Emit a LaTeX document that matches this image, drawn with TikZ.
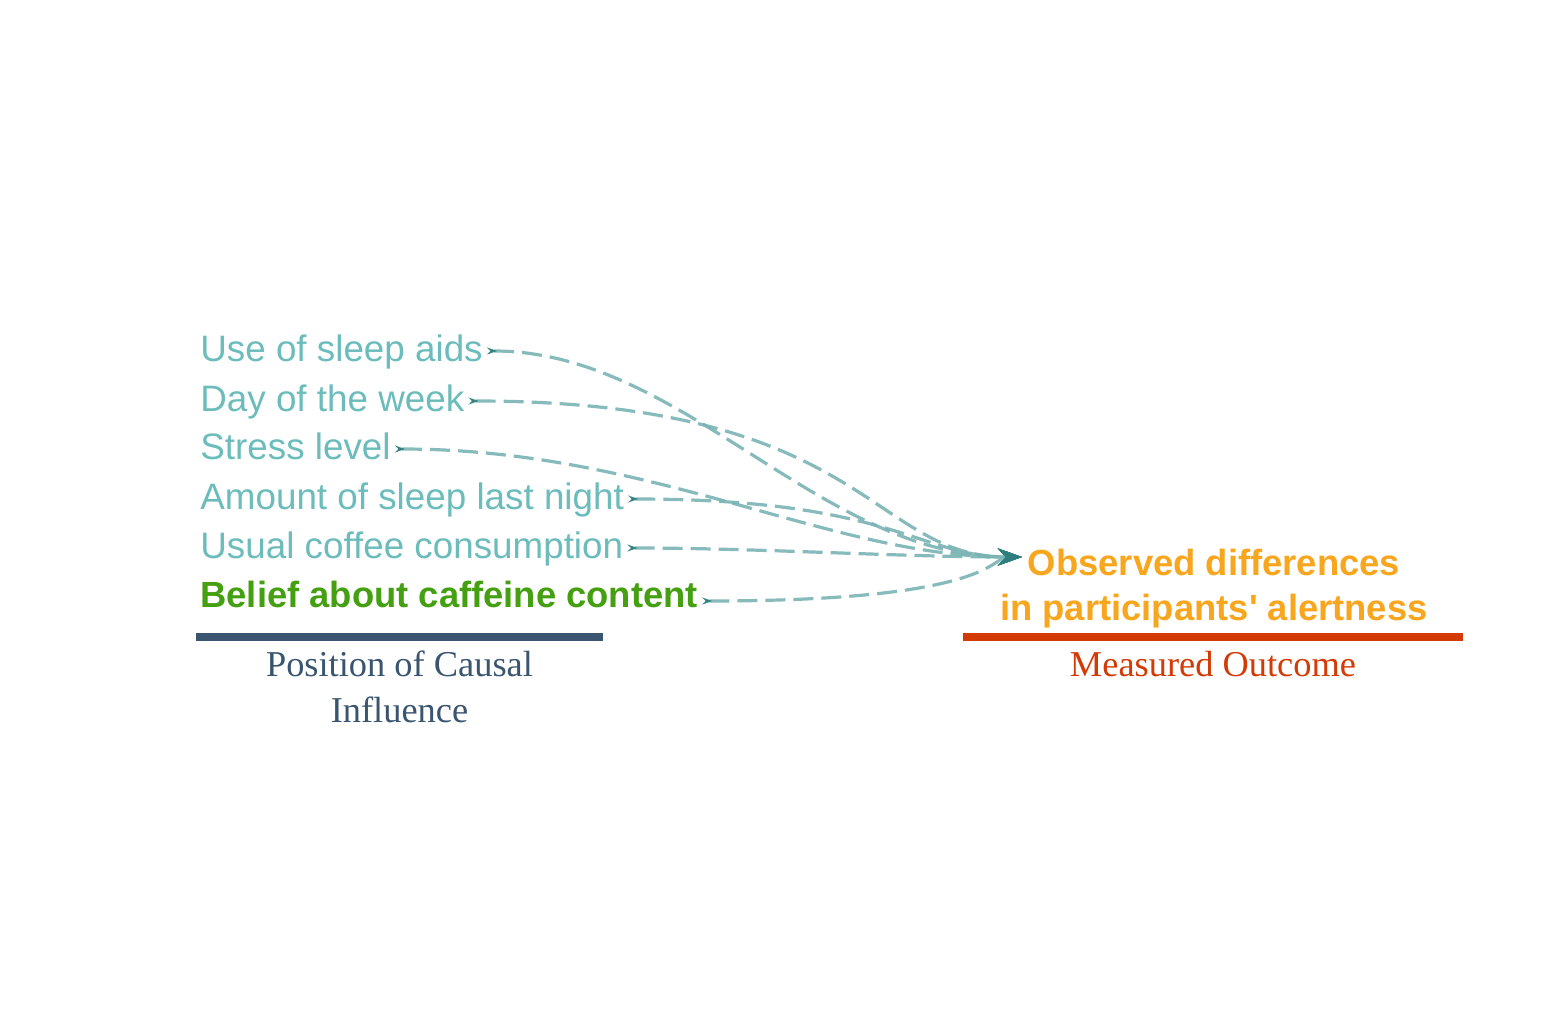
\documentclass[tikz,border=0pt]{standalone}
\usepackage{fontspec}
\setmainfont{Liberation Serif}
\setsansfont{Liberation Sans}
\usetikzlibrary{arrows.meta}

\definecolor{factorteal}{HTML}{6CBCBC}
\definecolor{beliefgreen}{HTML}{44A010}
\definecolor{outcomeorange}{HTML}{F8A61E}
\definecolor{causeblue}{HTML}{3A5570}
\definecolor{measurered}{HTML}{D33A06}
\definecolor{linkteal}{HTML}{7AB3B3}
\definecolor{tipteal}{HTML}{2E7E7E}

\begin{document}
\begin{tikzpicture}
[x=0.5pt,y=-0.5pt,
factor/.style={anchor=west,inner xsep=2pt,inner ysep=0pt,text height=13.5pt,text depth=2.7pt,font=\sffamily\fontsize{18.4}{21}\selectfont,text=factorteal},
beliefnode/.style={factor,text depth=7.5pt,text=beliefgreen,font=\sffamily\bfseries\fontsize{18.2}{21}\selectfont},
outcomenode/.style={anchor=base,align=center,font=\sffamily\bfseries\fontsize{18.2}{22.5}\selectfont,text=outcomeorange},
caption/.style={anchor=base,align=center,font=\fontsize{18.2}{23}\selectfont},
linkline/.style={linkteal,draw opacity=0.9,line width=1.6pt,dash pattern=on 10pt off 4pt,{Stealth[reversed,length=5pt,width=3.5pt,color=tipteal]}-{Stealth[length=12pt,width=8.5pt,color=tipteal]}},
bar/.style={line width=4pt}]

\useasboundingbox (0,0) rectangle (1560,1019);

% Causal factors
\node[factor](sleepaids) at (196,351){Use of sleep aids};
\node[factor](weekday) at (196,401){Day of the week};
\node[factor](stress) at (196,449){Stress level};
\node[factor](sleepamount) at (196,499){Amount of sleep last night};
\node[factor](coffee) at (196,548){Usual coffee consumption};
\node[beliefnode](belief) at (196,601){Belief about caffeine content};

% Outcome
\node[outcomenode](outcome) at (1214,620){Observed differences\\in participants\textquotesingle{} alertness};
\coordinate (tip) at (1022,557);

% links
\draw[linkline] (sleepaids.east) .. controls +(195,0) and +(-202,0) .. (tip);
\draw[linkline] (weekday.east) .. controls +(400,0) and +(-152,0) .. (tip);
\draw[linkline] (stress.east) .. controls +(257,0) and +(-192,0) .. (tip);
\draw[linkline] (sleepamount.east) .. controls +(265,0) and +(-102,0) .. (tip);
\draw[linkline] (coffee.east) .. controls +(130,0) and +(-122,0) .. (tip);
\draw[linkline] (belief.east) .. controls +(290,0) and +(-30,0) .. (tip);

% bars and captions
\draw[bar,causeblue] (196,637) -- (603,637);
\node[caption,text=causeblue](causecap) at (399.5,722){Position of Causal\\Influence};
\draw[bar,measurered] (963,637) -- (1463,637);
\node[caption,text=measurered](measurecap) at (1213,676){Measured Outcome};

\end{tikzpicture}
\end{document}
